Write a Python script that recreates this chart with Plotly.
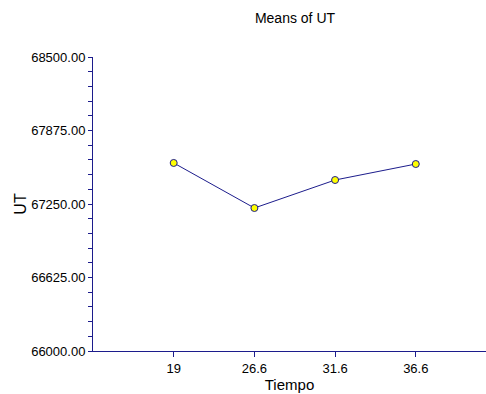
import plotly.graph_objects as go

# Tiempo levels and the mean UT
tiempo = ["19", "26.6", "31.6", "36.6"]
means_ut = [67599, 67216, 67454, 67590]

# position of each level on the x axis
x_pos = [1, 2, 3, 4]

navy = "#1c1c8c"

fig = go.Figure()

fig.add_trace(go.Scatter(
    x=x_pos,
    y=means_ut,
    mode="lines+markers",
    line=dict(color=navy, width=1),
    marker=dict(color="#ffff00", size=7, line=dict(color=navy, width=1)),
    showlegend=False
))

fig.update_layout(
    width=486,
    height=394,
    margin=dict(l=93, r=0, t=57, b=43),
    paper_bgcolor="white",
    plot_bgcolor="white",
    font=dict(family="Liberation Sans, Arial", size=13, color="black"),
    title=dict(text="Means of UT", x=0.607, xanchor="center", y=0.955, yanchor="middle",
               font=dict(size=14))
)

fig.update_xaxes(
    range=[0, 4.87],
    tickvals=x_pos,
    ticktext=tiempo,
    ticks="outside",
    ticklen=5,
    tickcolor=navy,
    showline=True,
    linecolor=navy,
    linewidth=1,
    showgrid=False,
    zeroline=False,
    title=dict(text="Tiempo", font=dict(size=15), standoff=2)
)

fig.update_yaxes(
    range=[66000, 68500],
    tickvals=[66000, 66625, 67250, 67875, 68500],
    tickformat=".2f",
    ticks="outside",
    ticklen=4,
    tickcolor=navy,
    minor=dict(tickvals=[66125, 66250, 66375, 66500, 66750, 66875, 67000, 67125,
                         67375, 67500, 67625, 67750, 68000, 68125, 68250, 68375],
               ticks="outside", ticklen=4, tickcolor=navy),
    showline=True,
    linecolor=navy,
    linewidth=1,
    showgrid=False,
    zeroline=False,
    title=dict(text="UT", font=dict(size=16), standoff=0)
)

# remove the page margin so the figure sits at the window corner
fig.write_html("out.html", config={"displayModeBar": False},
               post_script="document.body.style.margin='0';")
